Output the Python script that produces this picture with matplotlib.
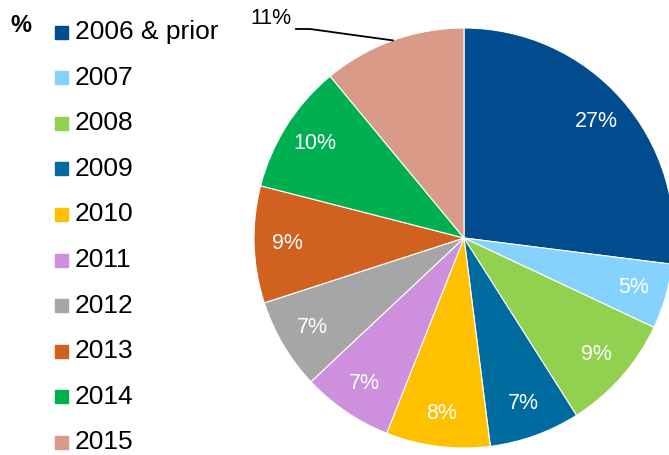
import numpy as np
import matplotlib
matplotlib.use("Agg")
import matplotlib.pyplot as plt
from matplotlib.patches import Rectangle

plt.rcParams['font.family'] = ['Liberation Sans', 'DejaVu Sans']

# --- data ---
years = ['2006 & prior', '2007', '2008', '2009', '2010',
         '2011', '2012', '2013', '2014', '2015']
shares = [27, 5, 9, 7, 8, 7, 7, 9, 10, 11]
colors = ['#004C8F', '#85D2FF', '#92D050', '#006B9E', '#FFC000',
          '#CE8FDC', '#A6A6A6', '#D0611F', '#00B050', '#D99A88']

W, H = 669, 455
fig = plt.figure(figsize=(W / 100, H / 100), dpi=100)
ax = fig.add_axes([0, 0, 1, 1])

cx, cy, r = 464, H - 238, 210
wedges, _ = ax.pie(shares, colors=colors, startangle=90, counterclock=False,
                   center=(cx, cy), radius=r, frame=True,
                   wedgeprops=dict(edgecolor='white', linewidth=0.8))
ax.set_xlim(0, W)
ax.set_ylim(0, H)
ax.set_aspect('equal')
ax.axis('off')

# percentage labels
for i, (w, v) in enumerate(zip(wedges, shares)):
    mid = np.deg2rad((w.theta1 + w.theta2) / 2)
    if i == len(shares) - 1:
        ex, ey = cx + r * np.cos(mid), cy + r * np.sin(mid)
        ax.plot([ex, 310, 296], [ey, H - 29, H - 29], color='black', lw=1.3)
        ax.text(292, H - 19, f'{v}%', ha='right', va='center', fontsize=15.5)
        continue
    d = 0.84 * r
    ax.text(cx + d * np.cos(mid), cy + d * np.sin(mid), f'{v}%',
            ha='center', va='center', fontsize=15.5, color='white')

# legend
ax.text(10, H - 25, '%', fontsize=17, fontweight='bold', ha='left', va='center')
for i, (lab, c) in enumerate(zip(years, colors)):
    y = H - (32 + i * 45.6)
    ax.add_patch(Rectangle((55, y - 6.5), 13, 13, color=c))
    ax.text(75, y, lab, fontsize=19, ha='left', va='center')

fig.savefig('out.png', dpi=100)
